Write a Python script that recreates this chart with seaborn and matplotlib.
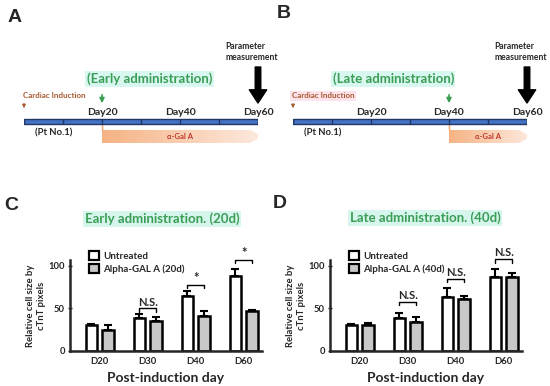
import numpy as np
import pandas as pd
import seaborn as sns
import matplotlib.pyplot as plt
from matplotlib.patches import Polygon, Rectangle
from matplotlib.colors import LinearSegmentedColormap

# bar chart data
days = ["D20", "D30", "D40", "D60"]
early_labels = ["Untreated", "Alpha-GAL A (20d)"]
late_labels = ["Untreated", "Alpha-GAL A (40d)"]

early_untreated = [30, 39, 65, 88]
early_untreated_err = [2, 4, 6, 9]
early_treated = [25, 35, 41, 47]
early_treated_err = [5, 5, 6, 1.5]

late_untreated = [30, 39, 64, 87]
late_untreated_err = [2, 6, 10, 9]
late_treated = [30, 34, 61, 87]
late_treated_err = [2.5, 6, 3.5, 4.5]

early_marks = ["", "N.S.", "*", "*"]
early_mark_y = [0, 50, 78, 107]
late_marks = ["", "N.S.", "N.S.", "N.S."]
late_mark_y = [0, 58, 85, 108]

# timeline data
timeline_ticks = [0, 10, 20, 30, 40, 50, 60]
day_marks = [20, 40, 60]
early_start = 20
late_start = 40
measure_day = 60

sns.set_style("ticks")
plt.rcParams["font.family"] = ["Lato", "DejaVu Sans"]

GREEN = "#3b9e55"
BROWN = "#a85a30"

fig = plt.figure(figsize=(5.5, 3.86), dpi=100)


def px_axes(x0, y0, x1, y1):
    # axes box given in figure pixels (top-left origin)
    return fig.add_axes([x0 / 550, 1 - y1 / 386, (x1 - x0) / 550, (y1 - y0) / 386])


def timeline(ax, start, admin_text, admin_x, pink):
    ax.set_xlim(0, 60)
    ax.set_ylim(165, 30)
    ax.axis("off")
    # bar with 10-day segments
    ax.add_patch(Rectangle((0, 118.5), 60, 5.5, facecolor="#4472c4",
                           edgecolor="#1f3864", lw=1, zorder=3))
    ax.vlines(timeline_ticks, 118.5, 124, color="#1f3864", lw=1, zorder=4)
    for d in day_marks:
        ax.text(d, 112.5, f"Day{d}", ha="center", va="center", fontsize=7.5,
                weight="bold")
    ax.text(7.5, 133, "(Pt No.1)", ha="center", va="center", fontsize=6.8,
            weight="bold")
    # cardiac induction
    box = dict(facecolor="#fde4ec", edgecolor="none", pad=1) if pink else None
    ax.text(-0.3, 96, "Cardiac Induction", ha="left", va="center",
            fontsize=5.8, weight="bold", color=BROWN, bbox=box)
    ax.annotate("", xy=(0, 111), xytext=(0, 101),
                arrowprops=dict(arrowstyle="-|>", color=BROWN, lw=0.8,
                                mutation_scale=5))
    # administration
    ax.text(admin_x, 79, admin_text, ha="center", va="center", fontsize=9.5,
            weight="bold", color=GREEN,
            bbox=dict(facecolor="#d8f7f0", edgecolor="none", pad=1))
    ax.annotate("", xy=(start, 106), xytext=(start, 92),
                arrowprops=dict(arrowstyle="-|>", color=GREEN, lw=1.2,
                                mutation_scale=7))
    # measurement
    ax.text(measure_day - 8.4, 52, "Parameter\nmeasurement", ha="left",
            va="center", fontsize=6.2, weight="bold", linespacing=1.4)
    ax.annotate("", xy=(measure_day, 103), xytext=(measure_day, 67),
                arrowprops=dict(arrowstyle="simple,head_length=0.95,head_width=1.25,tail_width=0.4",
                                color="black", mutation_scale=10,
                                shrinkA=0, shrinkB=0))
    # alpha-Gal A gradient arrow
    pts = [(start, 130), (58, 130), (61, 136.5), (58, 143), (start, 143)]
    poly = Polygon(pts, closed=True, facecolor="none", edgecolor="none")
    ax.add_patch(poly)
    cmap = LinearSegmentedColormap.from_list("ga", ["#f5b384", "#fdeadf"])
    im = ax.imshow(np.linspace(0, 1, 256).reshape(1, -1), cmap=cmap,
                   extent=[start, 61, 143, 130], aspect="auto", zorder=1)
    im.set_clip_path(poly)
    ax.vlines(start, 124, 130, color="#f0a060", lw=1)
    ax.text((start + 60) / 2, 136.5, "α-Gal A", ha="center", va="center",
            fontsize=5.5, weight="bold", color="#c0392b", zorder=2)
    ax.set_xlim(0, 60)
    ax.set_ylim(165, 30)


def bar_panel(ax, untreated, u_err, treated, t_err, labels, marks, mark_y):
    df = pd.DataFrame({"day": days * 2, "size": untreated + treated,
                       "group": [labels[0]] * 4 + [labels[1]] * 4})
    colors = ["white", "#c8c8c8"]
    sns.barplot(data=df, x="day", y="size", hue="group", palette=colors,
                saturation=1, edgecolor="black", linewidth=1.8, width=0.7,
                gap=0.31, errorbar=None, ax=ax, legend=False)
    bars = ax.patches[:8]
    for bar, e in zip(bars, u_err + t_err):
        cx = bar.get_x() + bar.get_width() / 2
        ax.errorbar(cx, bar.get_height(), yerr=[[0], [e]], color="black",
                    capsize=3, elinewidth=1.5, capthick=1.5, zorder=1)
    for i, m in enumerate(marks):
        if not m:
            continue
        b1, b2 = bars[i], bars[i + 4]
        x1 = b1.get_x() + b1.get_width() / 2
        x2 = b2.get_x() + b2.get_width() / 2
        y = mark_y[i]
        ax.plot([x1, x1, x2, x2], [y - 4, y, y, y - 4], color="black", lw=1,
                clip_on=False)
        ax.text((x1 + x2) / 2, y + 1, m, ha="center", va="bottom",
                fontsize=9.5 if m == "*" else 8, weight="bold")
    ax.set_ylim(0, 107)
    ax.set_xlim(-0.62, 3.38)
    ax.set_yticks([0, 50, 100])
    ax.set_xlabel("Post-induction day", fontsize=10, weight="bold",
                  labelpad=5)
    ax.set_ylabel("Relative cell size by\ncTnT pixels", fontsize=6.8,
                  weight="bold", labelpad=2)
    ax.tick_params(axis="x", length=0, labelsize=6.8, pad=4)
    ax.tick_params(axis="y", length=3, width=1, direction="inout",
                   labelsize=6.8, pad=2)
    for t in ax.get_xticklabels() + ax.get_yticklabels():
        t.set_fontweight("bold")
    sns.despine(ax=ax)
    for s in ["left", "bottom"]:
        ax.spines[s].set_linewidth(1.8)
    handles = [Rectangle((0, 0), 1, 1, facecolor=c, edgecolor="black",
                         linewidth=1.6) for c in colors]
    ax.legend(handles, labels, loc="upper left", bbox_to_anchor=(0.08, 1.14),
              frameon=False, handlelength=1.0, handleheight=1.0,
              handletextpad=0.45, labelspacing=0.35,
              prop=dict(weight="bold", size=7), borderaxespad=0)


axA = px_axes(24, 30, 258, 165)
timeline(axA, early_start, "(Early administration)", 32.2, False)
axB = px_axes(293, 30, 527, 165)
timeline(axB, late_start, "(Late administration)", 25.7, True)

axC = px_axes(70, 260, 262, 351)
bar_panel(axC, early_untreated, early_untreated_err, early_treated,
          early_treated_err, early_labels, early_marks, early_mark_y)
axD = px_axes(330, 260, 522, 351)
bar_panel(axD, late_untreated, late_untreated_err, late_treated,
          late_treated_err, late_labels, late_marks, late_mark_y)

for x, y, s in [(162, 219, "Early administration. (20d)"),
                (425, 218, "Late administration. (40d)")]:
    fig.text(x / 550, 1 - y / 386, s, ha="center", va="center", fontsize=9.5,
             weight="bold", color=GREEN,
             bbox=dict(facecolor="#d6f5ec", edgecolor="none", pad=1.5))

for x, y, s in [(15, 18, "A"), (284, 13, "B"), (11, 205, "C"), (280, 203, "D")]:
    fig.text(x / 550, 1 - y / 386, s, ha="center", va="center", fontsize=14,
             weight="bold", family="Liberation Sans")

fig.savefig("out.png", dpi=100)
